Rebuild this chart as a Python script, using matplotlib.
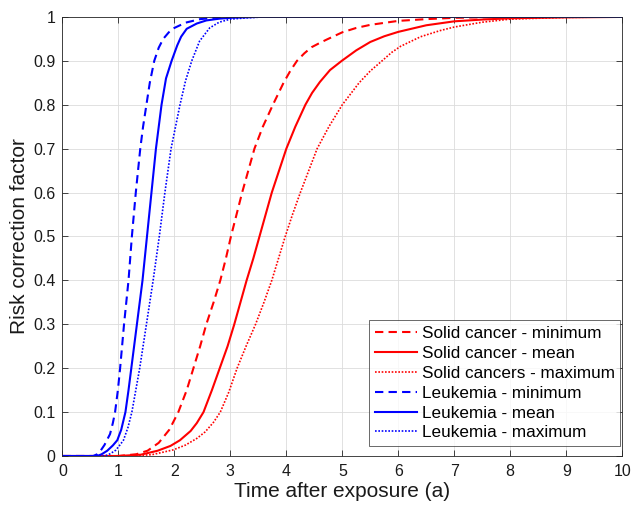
import matplotlib
matplotlib.use("Agg")
import matplotlib.pyplot as plt

plt.rcParams['font.family'] = ['Liberation Sans', 'DejaVu Sans']

# Solid cancer - minimum (dashed red)
sc_min_x = [0, 1.0, 1.32, 1.52, 1.72, 1.91, 2.07, 2.22, 2.34, 2.46, 2.57, 2.70, 2.82, 2.92, 3.01, 3.11, 3.21,
            3.32, 3.43, 3.58, 3.76, 3.95, 4.07, 4.19, 4.32, 4.45, 4.6, 4.73, 5.0, 5.25, 5.5, 6.0, 6.5, 7.0, 8.0, 10]
sc_min_y = [0, 0, 0.004, 0.012, 0.03, 0.06, 0.10, 0.15, 0.20, 0.25, 0.30, 0.35, 0.40, 0.45, 0.50, 0.55, 0.60,
            0.65, 0.70, 0.75, 0.80, 0.85, 0.877, 0.90, 0.917, 0.931, 0.941, 0.949, 0.965, 0.975, 0.982, 0.991, 0.995, 0.998, 1.0, 1.0]

# Solid cancer - mean (solid red)
sc_mean_x = [0, 1.0, 1.4, 1.7, 1.93, 2.1, 2.29, 2.4, 2.52, 2.67, 2.81, 2.95, 3.07, 3.18, 3.29, 3.41, 3.52, 3.63, 3.74,
             3.87, 4.0, 4.16, 4.34, 4.46, 4.6, 4.78, 4.99, 5.25, 5.5, 5.75, 6.0, 6.5, 7.0, 7.5, 8.0, 9.0, 10]
sc_mean_y = [0, 0, 0.003, 0.012, 0.023, 0.036, 0.057, 0.075, 0.10, 0.15, 0.20, 0.25, 0.30, 0.35, 0.40, 0.45, 0.50, 0.55, 0.60,
             0.65, 0.70, 0.75, 0.80, 0.827, 0.852, 0.879, 0.90, 0.924, 0.943, 0.956, 0.966, 0.981, 0.99, 0.994, 0.997, 0.999, 1.0]

# Solid cancers - maximum (dotted red)
sc_max_x = [0, 1.2, 1.6, 1.98, 2.2, 2.40, 2.55, 2.70, 2.82, 2.97, 3.12, 3.28, 3.45, 3.6, 3.74, 3.86, 3.98, 4.11, 4.25, 4.4,
            4.55, 4.76, 5.0, 5.3, 5.5, 5.71, 5.88, 6.04, 6.4, 6.75, 7.0, 7.5, 8.0, 9.0, 10]
sc_max_y = [0, 0, 0.003, 0.014, 0.025, 0.04, 0.055, 0.077, 0.10, 0.145, 0.20, 0.25, 0.30, 0.35, 0.40, 0.45, 0.50, 0.55, 0.60, 0.65,
            0.70, 0.75, 0.80, 0.85, 0.877, 0.90, 0.919, 0.933, 0.955, 0.969, 0.977, 0.988, 0.995, 0.999, 1.0]

# Leukemia - minimum (dashed blue)
le_min_x = [0, 0.55, 0.62, 0.67, 0.75, 0.85, 0.90, 0.94, 0.99, 1.03, 1.10, 1.18, 1.24, 1.31, 1.39, 1.44, 1.50, 1.56,
            1.64, 1.72, 1.80, 1.9, 2.0, 2.2, 2.46, 2.8, 3.0, 10]
le_min_y = [0, 0, 0.004, 0.01, 0.025, 0.05, 0.075, 0.10, 0.15, 0.20, 0.30, 0.40, 0.50, 0.60, 0.70, 0.75, 0.80, 0.85,
            0.90, 0.93, 0.95, 0.965, 0.975, 0.987, 0.995, 0.999, 1.0, 1.0]

# Leukemia - mean (solid blue)
le_mean_x = [0, 0.62, 0.70, 0.80, 0.90, 0.98, 1.05, 1.125, 1.18, 1.23, 1.33, 1.43, 1.51, 1.59, 1.67, 1.72, 1.77, 1.85,
             1.95, 2.05, 2.12, 2.22, 2.4, 2.57, 2.8, 3.0, 3.5, 10]
le_mean_y = [0, 0, 0.004, 0.012, 0.024, 0.036, 0.06, 0.10, 0.15, 0.20, 0.30, 0.40, 0.50, 0.60, 0.70, 0.75, 0.80, 0.86,
             0.90, 0.935, 0.955, 0.973, 0.985, 0.992, 0.996, 0.998, 1.0, 1.0]

# Leukemia - maximum (dotted blue)
le_max_x = [0, 0.72, 0.80, 0.85, 0.95, 1.02, 1.09, 1.17, 1.24, 1.31, 1.38, 1.50, 1.62, 1.73, 1.83, 1.94, 2.02, 2.10,
            2.20, 2.31, 2.45, 2.63, 2.8, 3.0, 3.3, 3.6, 10]
le_max_y = [0, 0, 0.002, 0.005, 0.013, 0.024, 0.036, 0.065, 0.10, 0.15, 0.20, 0.30, 0.40, 0.50, 0.60, 0.70, 0.75, 0.80,
            0.855, 0.90, 0.945, 0.975, 0.988, 0.995, 0.998, 1.0, 1.0]

x_ticks = list(range(0, 11))
y_ticks = [0, 0.1, 0.2, 0.3, 0.4, 0.5, 0.6, 0.7, 0.8, 0.9, 1]
y_tick_labels = ['0', '0.1', '0.2', '0.3', '0.4', '0.5', '0.6', '0.7', '0.8', '0.9', '1']

fig = plt.figure(figsize=(6.31, 5.07), dpi=100)
ax = fig.add_axes([0.099, 0.1006, 0.887, 0.866])

lw = 1.5
dash = (0, (4, 2.5))
dot = (0, (1, 1))
ax.plot(sc_min_x, sc_min_y, color='red', linestyle=dash, lw=lw, label='Solid cancer - minimum')
ax.plot(sc_mean_x, sc_mean_y, color='red', linestyle='-', lw=lw, label='Solid cancer - mean')
ax.plot(sc_max_x, sc_max_y, color='red', linestyle=dot, lw=1.2, label='Solid cancers - maximum')
ax.plot(le_min_x, le_min_y, color='blue', linestyle=dash, lw=lw, label='Leukemia - minimum')
ax.plot(le_mean_x, le_mean_y, color='blue', linestyle='-', lw=lw, label='Leukemia - mean')
ax.plot(le_max_x, le_max_y, color='blue', linestyle=dot, lw=1.2, label='Leukemia - maximum')

ax.set_xlim(0, 10)
ax.set_ylim(0, 1)
ax.set_xticks(x_ticks)
ax.set_yticks(y_ticks)
ax.set_yticklabels(y_tick_labels)
ax.grid(True, color='#dcdcdc', linewidth=0.6)
ax.set_axisbelow(True)
ax.tick_params(direction='in', length=4, width=0.6, top=True, right=True, labelsize=11.5,
               colors='#262626', labelcolor='#1a1a1a')
ax.tick_params(axis='x', pad=6)
ax.tick_params(axis='y', pad=5)
for s in ax.spines.values():
    s.set_color('#262626')
    s.set_linewidth(0.6)

ax.set_xlabel('Time after exposure (a)', fontsize=15, color='#1a1a1a', labelpad=2)
ax.set_ylabel('Risk correction factor', fontsize=15, color='#1a1a1a', labelpad=3)

leg = ax.legend(loc='lower right', bbox_to_anchor=(0.997, 0.022), fontsize=12.3, frameon=True, fancybox=False,
                edgecolor='#262626', handlelength=2.5, handletextpad=0.25, labelspacing=0.28,
                borderpad=0.35, borderaxespad=0)
leg.get_frame().set_linewidth(0.6)

fig.savefig('out.png', dpi=100)
